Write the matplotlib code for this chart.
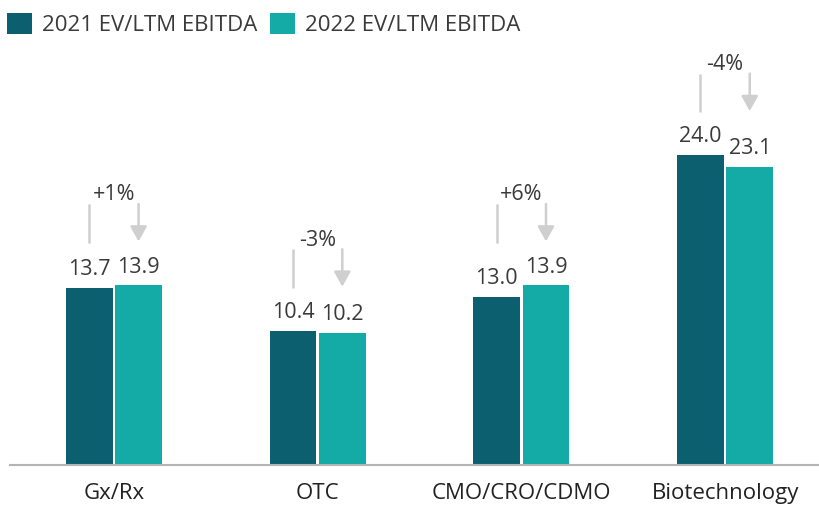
import matplotlib.pyplot as plt
import numpy as np

# données
categories = ["Gx/Rx", "OTC", "CMO/CRO/CDMO", "Biotechnology"]
ebitda_2021 = [13.7, 10.4, 13.0, 24.0]
ebitda_2022 = [13.9, 10.2, 13.9, 23.1]
changes = ["+1%", "-3%", "+6%", "-4%"]

dark = "#0b5f6e"
teal = "#14aaa6"
grey_txt = "#3a3a3a"
arrow_col = "#cfcfcf"

plt.rcParams['font.family'] = ['Open Sans', 'DejaVu Sans']

fig = plt.figure(figsize=(8.19, 5.07), dpi=100)
ax = fig.add_axes([0.012, 0.083, 0.988, 0.917])

x = np.arange(len(categories))
w = 0.23
off = 0.121
b1 = ax.bar(x - off, ebitda_2021, w, color=dark, label="2021 EV/LTM EBITDA")
b2 = ax.bar(x + off, ebitda_2022, w, color=teal, label="2022 EV/LTM EBITDA")

# étiquettes de valeurs au-dessus des barres
for i in range(len(categories)):
    ax.text(x[i] - off, ebitda_2021[i] + 0.6, f"{ebitda_2021[i]:.1f}", ha="center", va="bottom",
            fontsize=15.5, color=grey_txt)
    ax.text(x[i] + off, ebitda_2022[i] + 0.6, f"{ebitda_2022[i]:.1f}", ha="center", va="bottom",
            fontsize=15.5, color=grey_txt)

    # flèche de variation
    top = max(ebitda_2021[i], ebitda_2022[i])
    ax.plot([x[i] - off, x[i] - off], [top + 3.3, top + 6.3], color=arrow_col, lw=1.8,
            solid_capstyle="butt")
    ax.annotate("", xy=(x[i] + off, top + 3.4), xytext=(x[i] + off, top + 6.3),
                arrowprops=dict(arrowstyle="-|>,head_length=0.9,head_width=0.5",
                                color=arrow_col, lw=1.8, shrinkA=0, shrinkB=0))
    ax.text(x[i], top + 6.2, changes[i], ha="center", va="bottom", fontsize=15.5, color=grey_txt)

ax.set_xlim(-0.511, 3.461)
ax.set_ylim(0, 36)
ax.set_xticks(x)
ax.set_xticklabels(categories, fontsize=16, color="#222222")
ax.tick_params(axis="x", length=0, pad=13)
ax.set_yticks([])
for s in ["top", "right", "left"]:
    ax.spines[s].set_visible(False)
ax.spines["bottom"].set_color("#b5b5b5")
ax.spines["bottom"].set_linewidth(1.5)

ax.legend(loc="upper left", bbox_to_anchor=(-0.028, 1.016), ncol=2, frameon=False,
          fontsize=16, handlelength=1.1, handleheight=1.1, handletextpad=0.45,
          columnspacing=0.6, labelcolor=grey_txt)

fig.savefig("out.png", dpi=100)
